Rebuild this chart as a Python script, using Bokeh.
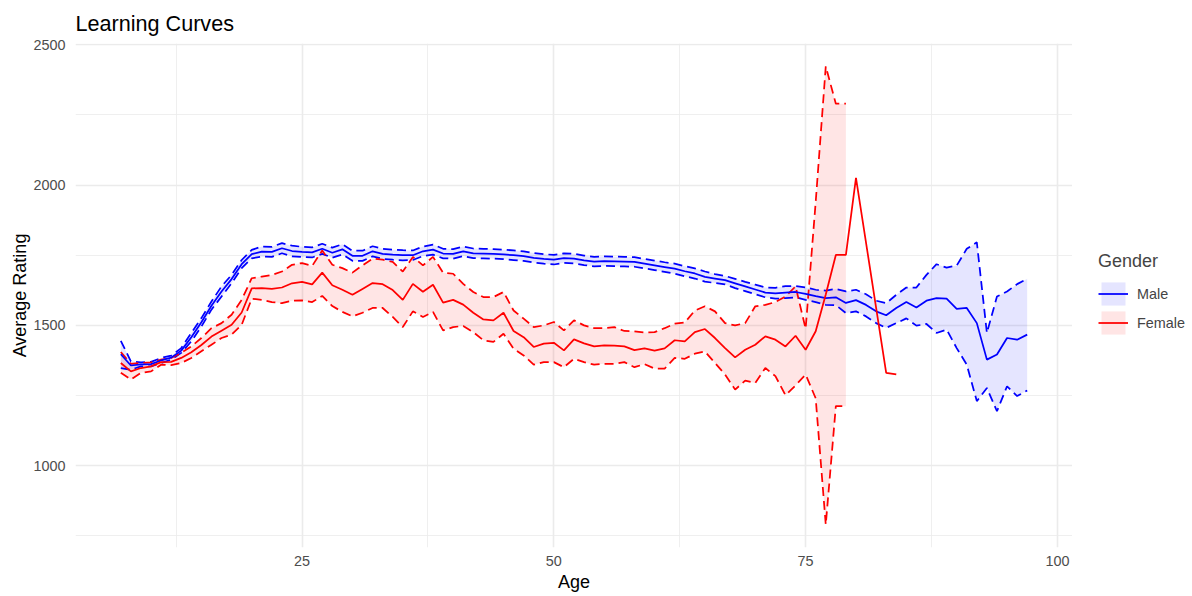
from bokeh.plotting import figure
from bokeh.layouts import row
from bokeh.models import (ColumnDataSource, Range1d, FixedTicker, Legend,
                          LegendItem)
from bokeh.embed import file_html
from bokeh.resources import INLINE

# ---- data: average rating by age, with interval bounds ----
male_age = list(range(7, 98))
male_mean = [1397, 1357, 1361, 1362, 1375, 1385, 1410, 1458, 1511, 1570,
             1621, 1665, 1718, 1754, 1763, 1762, 1775, 1765, 1762, 1760,
             1773, 1759, 1771, 1748, 1748, 1764, 1755, 1752, 1750, 1750,
             1764, 1770, 1756, 1755, 1764, 1757, 1756, 1755, 1753, 1750,
             1747, 1741, 1737, 1734, 1740, 1738, 1732, 1727, 1729, 1728,
             1727, 1726, 1720, 1714, 1708, 1702, 1693, 1685, 1673, 1667,
             1661, 1650, 1639, 1628, 1617, 1614, 1617, 1619, 1612, 1604,
             1597, 1600, 1580, 1590, 1573, 1550, 1536, 1562, 1583, 1564,
             1588, 1597, 1595, 1559, 1562, 1508, 1378, 1396, 1455, 1449,
             1467]
male_upper = [1445, 1372, 1368, 1370, 1384, 1392, 1419, 1473, 1526, 1585,
              1639, 1680, 1733, 1769, 1781, 1780, 1793, 1784, 1780, 1778,
              1791, 1777, 1789, 1766, 1766, 1782, 1773, 1770, 1768, 1767,
              1781, 1788, 1773, 1772, 1781, 1774, 1773, 1772, 1770, 1767,
              1764, 1758, 1754, 1751, 1757, 1755, 1749, 1744, 1746, 1745,
              1744, 1743, 1737, 1731, 1725, 1720, 1711, 1703, 1692, 1683,
              1676, 1666, 1655, 1645, 1635, 1634, 1640, 1640, 1635, 1627,
              1624, 1630, 1621, 1627, 1611, 1588, 1579, 1609, 1635, 1635,
              1680, 1718, 1706, 1713, 1773, 1796, 1473, 1603, 1621, 1647,
              1666]
male_lower = [1348, 1342, 1354, 1354, 1366, 1378, 1402, 1443, 1496, 1556,
              1603, 1650, 1704, 1739, 1745, 1744, 1757, 1746, 1744, 1742,
              1755, 1741, 1753, 1730, 1730, 1746, 1737, 1734, 1732, 1733,
              1747, 1752, 1739, 1738, 1747, 1740, 1739, 1738, 1736, 1733,
              1730, 1724, 1720, 1717, 1723, 1721, 1715, 1710, 1712, 1711,
              1710, 1709, 1703, 1697, 1691, 1684, 1675, 1667, 1656, 1651,
              1646, 1633, 1622, 1611, 1600, 1595, 1597, 1600, 1591, 1583,
              1573, 1572, 1544, 1550, 1532, 1508, 1491, 1508, 1525, 1499,
              1505, 1473, 1485, 1419, 1360, 1230, 1277, 1194, 1283, 1248,
              1268]

female_age = list(range(7, 81)) + [83, 84]
female_mean = [1366, 1336, 1348, 1354, 1369, 1370, 1384, 1404, 1430, 1460,
               1481, 1502, 1546, 1632, 1633, 1630, 1635, 1650, 1655, 1646,
               1688, 1643, 1627, 1609, 1630, 1651, 1647, 1626, 1591, 1648,
               1620, 1645, 1581, 1591, 1574, 1545, 1521, 1518, 1545, 1480,
               1458, 1423, 1435, 1438, 1411, 1450, 1436, 1425, 1429, 1428,
               1425, 1412, 1418, 1410, 1418, 1447, 1443, 1476, 1487, 1455,
               1419, 1386, 1413, 1431, 1461, 1449, 1425, 1463, 1413, 1479,
               1610, 1751, 1751, 2026, 1331, 1325]
female_upper = [1405, 1363, 1366, 1368, 1378, 1384, 1402, 1425, 1455, 1490,
                1508, 1538, 1591, 1668, 1674, 1680, 1692, 1716, 1722, 1712,
                1767, 1716, 1704, 1688, 1714, 1738, 1734, 1726, 1692, 1744,
                1714, 1744, 1688, 1684, 1648, 1619, 1601, 1601, 1619, 1553,
                1524, 1494, 1500, 1512, 1482, 1518, 1500, 1490, 1490, 1494,
                1480, 1479, 1475, 1476, 1490, 1506, 1510, 1553, 1568, 1550,
                1508, 1500, 1508, 1568, 1573, 1583, 1603, 1639, 1488, 1940,
                2423, 2290, 2290, None, None, None]
female_lower = [1331, 1307, 1331, 1336, 1360, 1358, 1366, 1384, 1408, 1431,
                1455, 1467, 1502, 1595, 1591, 1583, 1579, 1588, 1589, 1583,
                1605, 1569, 1548, 1532, 1545, 1562, 1562, 1530, 1494, 1550,
                1530, 1548, 1482, 1494, 1498, 1476, 1447, 1441, 1470, 1417,
                1393, 1360, 1369, 1369, 1351, 1381, 1369, 1360, 1363, 1363,
                1369, 1351, 1362, 1346, 1346, 1384, 1381, 1399, 1407, 1366,
                1325, 1271, 1303, 1295, 1348, 1319, 1251, 1286, 1325, 1240,
                790, 1212, 1212, None, None, None]

genders = ["Male", "Female"]

# ---- styling ----
FONT = "Liberation Sans"
BLUE = "#0000FF"
RED = "#FF0000"
GRID = "#EBEBEB"
DASH = "9 5"
LW = 1.75

male_src = ColumnDataSource(dict(age=male_age, mean=male_mean,
                                 upper=male_upper, lower=male_lower))
band_idx = [i for i, u in enumerate(female_upper) if u is not None]
female_line_src = ColumnDataSource(dict(age=female_age, mean=female_mean))
female_band_src = ColumnDataSource(dict(
    age=[female_age[i] for i in band_idx],
    upper=[female_upper[i] for i in band_idx],
    lower=[female_lower[i] for i in band_idx]))

# ranges padded by 5% as in the usual ggplot look
all_x = male_age + female_age
all_y = (male_upper + male_lower + female_mean
         + [v for v in female_upper + female_lower if v is not None])
xpad = 0.05 * (max(all_x) - min(all_x))
ypad = 0.05 * (max(all_y) - min(all_y))

p = figure(width=1072, height=596, output_backend="svg", toolbar_location=None,
           x_range=Range1d(min(all_x) - xpad, max(all_x) + xpad),
           y_range=Range1d(min(all_y) - ypad, max(all_y) + ypad),
           min_border_left=75, min_border_right=0, min_border_top=43,
           min_border_bottom=49)
p.outline_line_color = None
p.background_fill_color = "white"
p.border_fill_color = "white"

# title
p.title.text = "Learning Curves"
p.title.align = "left"
p.title.text_font = FONT
p.title.text_font_size = "21.6px"
p.title.text_font_style = "normal"
p.title.text_color = "black"
p.title.standoff = 15

# grid
p.xaxis.ticker = FixedTicker(ticks=[25, 50, 75, 100],
                             minor_ticks=[12.5, 37.5, 62.5, 87.5])
p.yaxis.ticker = FixedTicker(ticks=[1000, 1500, 2000, 2500],
                             minor_ticks=[750, 1250, 1750, 2250])
for g in (p.xgrid, p.ygrid):
    g.grid_line_color = GRID
    g.grid_line_width = 1.6
    g.minor_grid_line_color = GRID
    g.minor_grid_line_width = 0.8

# axes
for ax in (p.xaxis, p.yaxis):
    ax.axis_line_color = None
    ax.major_tick_line_color = None
    ax.minor_tick_line_color = None
    ax.major_tick_out = 0
    ax.major_tick_in = 0
    ax.minor_tick_out = 0
    ax.minor_tick_in = 0
    ax.major_label_text_font = FONT
    ax.major_label_text_font_size = "14.4px"
    ax.major_label_text_color = "#4D4D4D"
    ax.axis_label_text_font = FONT
    ax.axis_label_text_font_size = "18px"
    ax.axis_label_text_font_style = "normal"
    ax.axis_label_text_color = "black"
p.xaxis.axis_label = "Age"
p.yaxis.axis_label = "Average Rating"
p.xaxis.major_label_standoff = 8
p.xaxis.axis_label_standoff = 3
p.yaxis.major_label_standoff = 10
p.yaxis.axis_label_standoff = 0

# bands
p.varea(x="age", y1="lower", y2="upper", source=male_src,
        fill_color=BLUE, fill_alpha=0.1)
p.varea(x="age", y1="lower", y2="upper", source=female_band_src,
        fill_color=RED, fill_alpha=0.1)

# interval bounds and mean lines
p.line("age", "upper", source=male_src, line_color=BLUE, line_width=LW,
       line_dash=DASH)
p.line("age", "lower", source=male_src, line_color=BLUE, line_width=LW,
       line_dash=DASH)
p.line("age", "upper", source=female_band_src, line_color=RED, line_width=LW,
       line_dash=DASH)
p.line("age", "lower", source=female_band_src, line_color=RED, line_width=LW,
       line_dash=DASH)
p.line("age", "mean", source=male_src, line_color=BLUE, line_width=LW)
p.line("age", "mean", source=female_line_src, line_color=RED, line_width=LW)

# ---- legend panel to the right of the chart ----
lf = figure(width=120, height=596, output_backend="svg", toolbar_location=None,
            x_range=Range1d(0, 1), y_range=Range1d(0, 1), min_border=0)
lf.outline_line_color = None
lf.background_fill_color = "white"
lf.border_fill_color = "white"
lf.axis.visible = False
lf.grid.visible = False

# key renderers sit outside the visible range; only their legend swatches show
items = []
for name, col in zip(genders, [BLUE, RED]):
    band_key = lf.varea(x=[-3, -2], y1=[-3, -3], y2=[-2, -2],
                        fill_color=col, fill_alpha=0.1)
    line_key = lf.line(x=[-3, -2], y=[-3, -2], line_color=col, line_width=LW)
    items.append(LegendItem(label=name, renderers=[band_key, line_key]))

legend = Legend(items=items, location=(26, 210), title="Gender",
                title_text_font=FONT, title_text_font_size="18px",
                title_text_font_style="normal", title_standoff=7,
                label_text_font=FONT, label_text_font_size="14.4px",
                glyph_width=30, glyph_height=29, label_height=29,
                label_standoff=9, spacing=0, padding=0, margin=0,
                border_line_color=None, background_fill_alpha=0)
lf.add_layout(legend, "center")

layout = row(p, lf)
open("out.html", "w").write(file_html(layout, INLINE))
